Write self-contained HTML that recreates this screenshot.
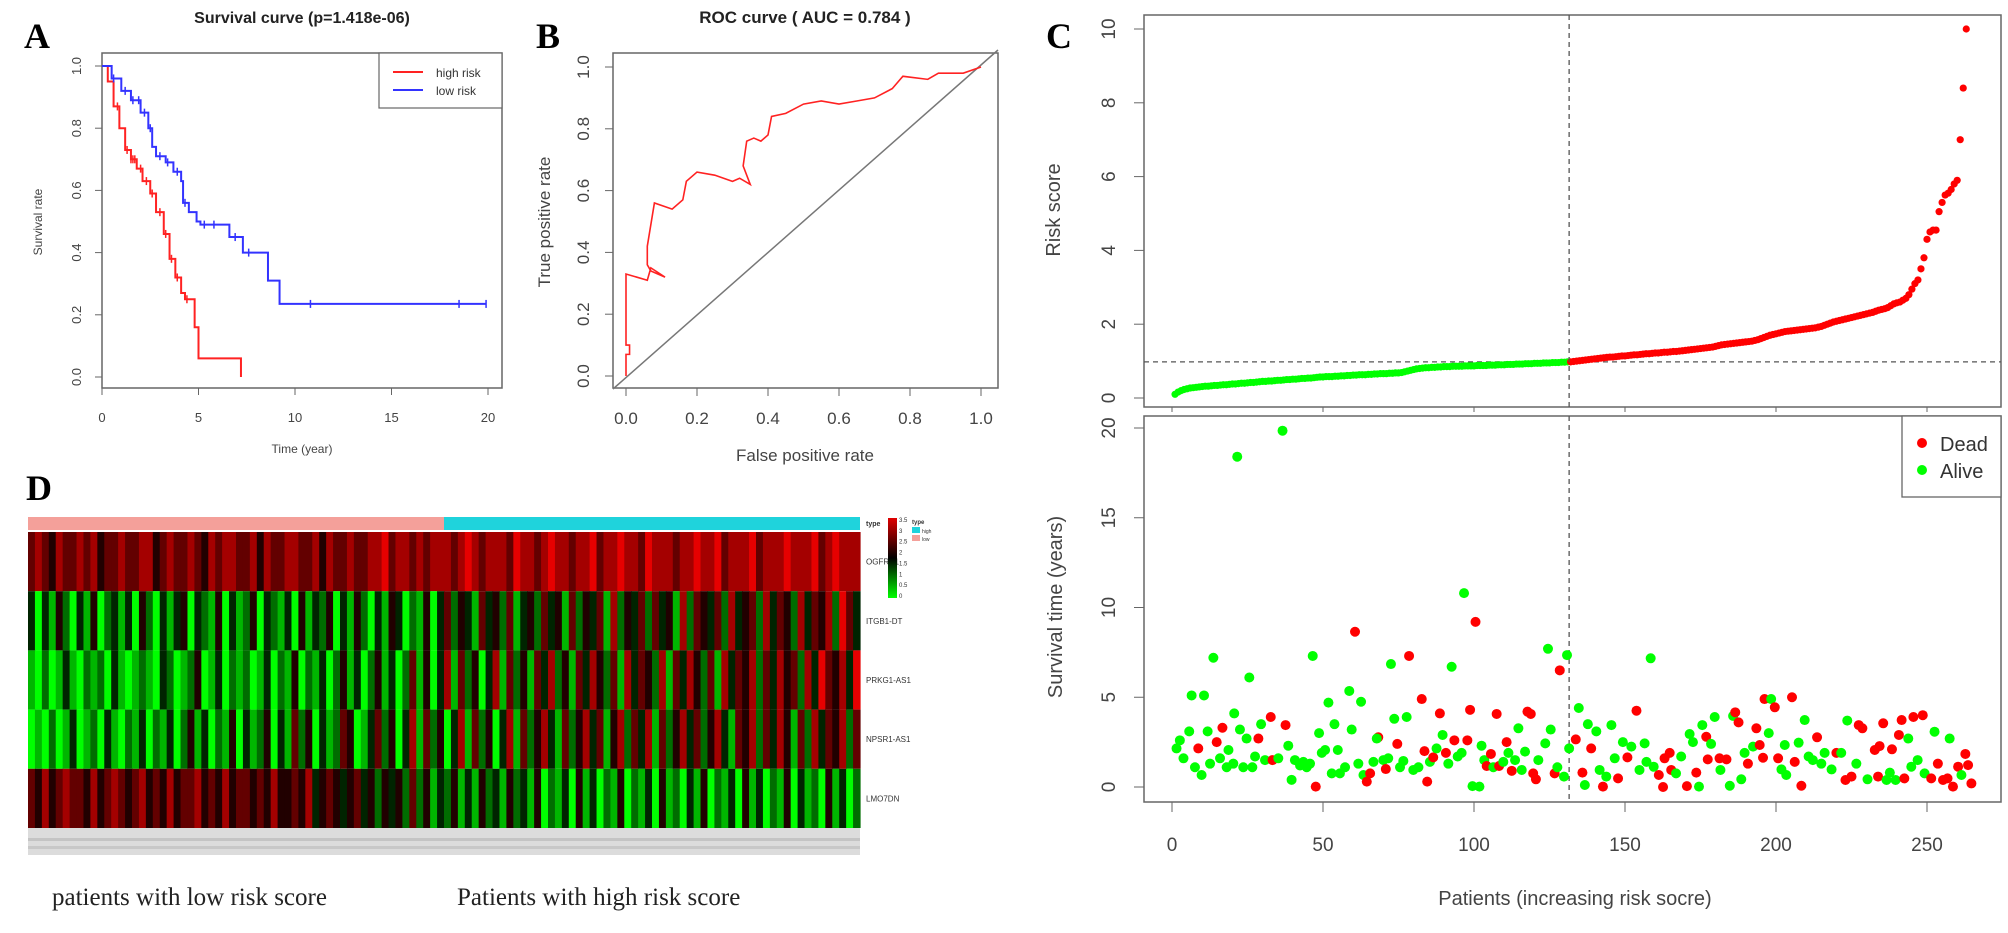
<!DOCTYPE html>
<html><head><meta charset="utf-8"><style>
html,body{margin:0;padding:0;background:#fff;width:2008px;height:933px;overflow:hidden}
svg{display:block;font-family:"Liberation Sans",sans-serif}
.ser{font-family:"Liberation Serif",serif}
</style></head><body>
<svg id="fig" width="2008" height="933" viewBox="0 0 2008 933" xmlns="http://www.w3.org/2000/svg">
<text class="ser" x="24" y="48" font-size="36" font-weight="bold">A</text>
<text class="ser" x="536" y="48" font-size="36" font-weight="bold">B</text>
<text class="ser" x="1046" y="48" font-size="36" font-weight="bold">C</text>
<text class="ser" x="26" y="500" font-size="36" font-weight="bold">D</text>

<g id="pa">
<text x="302" y="23" font-size="16" font-weight="bold" text-anchor="middle" fill="#222">Survival curve (p=1.418e-06)</text>
<rect x="102" y="53" width="400" height="335" fill="none" stroke="#666" stroke-width="1.5"/>
<text transform="translate(42,222) rotate(-90)" font-size="12" text-anchor="middle" fill="#444">Survival rate</text>
<text x="302" y="453" font-size="12" text-anchor="middle" fill="#444">Time (year)</text>
<g>
<rect x="379" y="53" width="123" height="55" fill="#fff" stroke="#666" stroke-width="1.2"/>
<line x1="393" y1="72" x2="423" y2="72" stroke="#f22" stroke-width="2"/>
<line x1="393" y1="90" x2="423" y2="90" stroke="#33f" stroke-width="2"/>
<text x="436" y="77" font-size="12" fill="#333">high risk</text>
<text x="436" y="95" font-size="12" fill="#333">low risk</text>
</g>
</g>

<g id="pb">
<text x="805" y="23" font-size="17" font-weight="bold" text-anchor="middle" fill="#222">ROC curve ( AUC =  0.784 )</text>
<rect x="613" y="53" width="385" height="335" fill="none" stroke="#666" stroke-width="1.5"/>
<text transform="translate(550,222) rotate(-90)" font-size="17" text-anchor="middle" fill="#444">True positive rate</text>
<text x="805" y="461" font-size="17" text-anchor="middle" fill="#444">False positive rate</text>
</g>

<g id="pc">
<rect x="1144" y="15" width="857" height="392" fill="none" stroke="#666" stroke-width="1.5"/>
<rect x="1144" y="416" width="857" height="386" fill="none" stroke="#666" stroke-width="1.5"/>
<text transform="translate(1060,210) rotate(-90)" font-size="20" text-anchor="middle" fill="#444">Risk score</text>
<text transform="translate(1062,607) rotate(-90)" font-size="20" text-anchor="middle" fill="#444">Survival time (years)</text>
<text x="1575" y="905" font-size="20" text-anchor="middle" fill="#444">Patients (increasing risk socre)</text>
</g>

<g id="pd"></g>
<text class="ser" x="52" y="905" font-size="25" fill="#222">patients with low risk score</text>
<text class="ser" x="457" y="905" font-size="25" fill="#222">Patients with high risk score</text>
</svg>
<script>
// ---- Panel A data ----
const kmHighT=[0,0.3,0.6,0.9,1.2,1.5,1.8,2.1,2.5,2.8,3.2,3.5,3.8,4.1,4.3,4.8,4.8,5.0,5.0,7.2,7.2];
const kmHighS=[1,0.95,0.87,0.8,0.73,0.7,0.67,0.63,0.59,0.53,0.46,0.38,0.32,0.27,0.25,0.25,0.16,0.12,0.06,0.06,0.0];
const kmLowT=[0,0.5,1,1.5,2,2.4,2.6,2.8,3.3,3.7,4.1,4.2,4.5,4.9,5.1,6.6,6.6,7.3,7.3,8.6,8.6,9.2,9.2,19.9];
const kmLowS=[1,0.96,0.92,0.89,0.85,0.8,0.74,0.71,0.69,0.66,0.63,0.56,0.53,0.5,0.49,0.49,0.45,0.45,0.4,0.4,0.31,0.31,0.235,0.235];
const kmLowCensor=[0.6,1.2,1.6,1.9,2.2,2.5,3.0,3.4,3.9,4.3,5.3,5.8,6.9,7.6,10.8,18.5,19.9];
const kmHighCensor=[0.8,1.3,1.5,1.6,1.7,2.0,2.3,2.6,3.0,3.3,3.6,3.9,4.4];
const survXTicks=[0,5,10,15,20];
const survYTicks=[0,0.2,0.4,0.6,0.8,1.0];
// ---- Panel B data ----
const rocFpr=[0,0,0.01,0.01,0,0,0.06,0.07,0.11,0.07,0.06,0.06,0.08,0.13,0.16,0.17,0.2,0.25,0.3,0.32,0.35,0.33,0.34,0.36,0.38,0.4,0.41,0.45,0.5,0.55,0.6,0.65,0.7,0.75,0.78,0.85,0.88,0.95,1.0];
const rocTpr=[0,0.07,0.07,0.1,0.1,0.33,0.31,0.35,0.32,0.34,0.36,0.42,0.56,0.54,0.57,0.63,0.66,0.65,0.63,0.64,0.62,0.68,0.76,0.77,0.76,0.78,0.84,0.85,0.88,0.89,0.88,0.89,0.9,0.93,0.97,0.96,0.98,0.98,1.0];
const rocTicks=[0,0.2,0.4,0.6,0.8,1.0];
// ---- Panel C data ----
const riskScores=[.10,.16,.20,.23,.25,.27,.28,.29,.30,.31,.32,.32,.33,.34,.34,.35,.36,.36,.37,.38,.38,.39,.40,.40,.41,.42,.42,.43,.44,.45,.45,.46,.46,.47,.48,.48,.49,.50,.50,.51,.51,.52,.53,.53,.54,.54,.55,.56,.57,.57,.58,.58,.58,.59,.59,.60,.60,.61,.61,.62,.62,.63,.63,.63,.64,.64,.65,.65,.66,.66,.66,.67,.67,.68,.68,.69,.71,.73,.75,.77,.79,.80,.81,.82,.82,.83,.83,.84,.84,.85,.85,.85,.86,.86,.86,.86,.87,.87,.87,.87,.88,.88,.88,.88,.89,.89,.89,.90,.90,.90,.91,.91,.91,.92,.92,.92,.93,.93,.93,.94,.94,.94,.95,.95,.95,.96,.96,.96,.97,.97,.98,.98,
0.99,1.00,1.01,1.02,1.03,1.04,1.05,1.06,1.07,1.08,1.09,1.10,1.11,1.11,1.12,1.13,1.14,1.14,1.15,1.16,1.17,1.17,1.18,1.19,1.20,1.20,1.21,1.22,1.22,1.23,1.24,1.24,1.25,1.26,1.26,1.27,1.28,1.29,1.30,1.31,1.32,1.33,1.34,1.35,1.36,1.37,1.38,1.40,1.42,1.44,1.45,1.46,1.47,1.48,1.49,1.50,1.51,1.52,1.53,1.54,1.56,1.58,1.61,1.64,1.67,1.70,1.72,1.74,1.76,1.78,1.80,1.81,1.82,1.83,1.84,1.85,1.86,1.87,1.88,1.89,1.90,1.92,1.94,1.97,2.00,2.03,2.06,2.08,2.10,2.12,2.14,2.16,2.18,2.20,2.22,2.24,2.26,2.28,2.30,2.32,2.35,2.38,2.40,2.42,2.45,2.50,2.55,2.58,2.60,2.65,2.70,2.80,2.95,3.10,3.20,3.50,3.80,4.30,4.50,4.55,4.55,5.05,5.30,5.50,5.55,5.65,5.80,5.90,7.00,8.40,10.00];
const riskCutoff=131.5;
const riskThreshold=0.98;
const survPatient=[1.5,2.6,3.8,5.7,6.5,8.7,7.6,9.8,10.6,11.8,12.6,13.7,14.8,16.7,15.9,18.7,18.1,20.3,20.6,21.6,22.5,23.6,24.7,25.6,26.6,27.5,28.6,29.5,30.8,32.7,33.3,35.2,37.6,36.6,38.5,39.6,40.7,42.4,43.5,44.6,45.7,46.6,47.6,48.7,49.6,50.7,51.8,52.9,53.8,54.9,55.6,57.3,58.7,59.5,60.6,61.7,62.6,63.4,64.5,65.6,66.7,68.3,67.8,70,70.8,71.6,72.5,73.6,74.6,75.5,76.6,77.7,78.5,79.9,81.6,82.7,83.6,84.5,85.4,86.5,87.6,88.7,89.6,90.7,91.5,92.6,93.5,94.6,95.9,96.7,97.8,98.7,100.5,99.5,101.8,102.5,103.4,104.2,105.6,107.5,106.4,108.3,109.7,110.8,111.4,112.5,113.6,114.7,115.8,116.9,117.7,118.8,119.6,120.5,121.3,123.6,124.5,125.4,126.7,127.6,128.4,129.8,130.8,131.5,133.7,134.7,135.9,136.7,137.7,138.8,140.5,141.6,142.7,143.8,145.5,146.6,147.7,149.3,150.8,152.1,153.8,154.8,156.5,157.1,158.5,159.5,161.2,162.6,163.1,164.8,165.3,166.9,168.6,170.5,171.4,172.5,173.6,174.5,175.6,176.9,178.5,177.4,179.7,181.3,181.6,183.6,184.7,185.8,186.5,187.6,188.5,189.6,190.7,192.4,193.5,194.6,195.7,196.2,198.4,197.6,199.6,200.7,201.8,203.4,202.9,205.3,206.2,207.5,208.4,209.5,210.8,212.2,213.6,215,216.1,218.4,220,221.6,223,223.6,225,226.6,227.4,228.6,230.3,232.7,234.3,233.8,235.5,236.6,237.7,238.4,239.6,240.7,241.6,243.8,242.5,244.8,245.5,246.9,248.6,249.2,251.4,252.5,253.6,255.3,256.8,257.5,258.6,260.3,261.4,262.7,263.6,264.7];
const survTime=[2.15,2.6,1.6,3.1,5.1,2.15,1.1,0.67,5.1,3.1,1.3,7.2,2.5,3.3,1.6,2.06,1.1,1.3,4.1,18.4,3.2,1.1,2.7,6.1,1.1,1.7,2.7,3.5,1.5,3.9,1.5,1.6,3.45,19.85,2.3,0.4,1.5,1.2,1.4,1.1,1.3,7.3,0.02,3.0,1.9,2.06,4.7,0.76,3.5,2.06,0.76,1.1,5.35,3.2,8.65,1.3,4.75,0.67,0.3,0.76,1.4,2.77,2.7,1.5,1.0,1.6,6.85,3.8,2.4,1.1,1.45,3.9,7.3,0.95,1.1,4.9,2.0,0.3,1.4,1.65,2.15,4.1,2.9,1.9,1.3,6.7,2.6,1.7,1.9,10.8,2.6,4.3,9.2,0.05,0.02,2.3,1.5,1.17,1.84,4.07,1.1,1.17,1.4,2.5,1.9,0.9,1.5,3.27,0.95,1.97,4.2,4.07,0.76,0.43,1.5,2.43,7.7,3.2,0.76,1.1,6.5,0.58,7.35,2.15,2.65,4.4,0.8,0.11,3.5,2.15,3.1,0.95,0.02,0.58,3.45,1.6,0.48,2.5,1.65,2.25,4.25,0.95,2.43,1.4,7.17,1.13,0.67,0,1.6,1.9,0.95,0.76,1.7,0.05,2.95,2.5,0.8,0.02,3.45,2.8,2.4,1.54,3.9,1.6,0.95,1.54,0.07,3.96,4.16,3.6,0.43,1.9,1.3,2.25,3.27,2.34,1.63,4.9,4.9,3.0,4.44,1.6,0.98,0.67,2.34,5.0,1.4,2.47,0.07,3.73,1.7,1.5,2.77,1.3,1.9,0.98,1.9,1.9,0.39,3.7,0.58,1.3,3.45,3.27,0.43,2.06,2.28,0.58,3.55,0.39,0.8,2.1,0.39,2.9,3.73,2.7,0.48,1.13,3.9,1.5,4.0,0.76,0.48,3.08,1.3,0.39,0.48,2.7,0.02,1.13,0.67,1.84,1.22,0.2];
const survDead=[0,0,0,0,0,1,0,0,0,0,0,0,1,1,0,0,0,0,0,0,0,0,0,0,0,0,1,0,0,1,1,0,1,0,0,0,0,0,0,0,0,0,1,0,0,0,0,0,0,0,0,0,0,0,1,0,0,0,1,1,0,1,0,0,1,0,0,0,1,0,0,0,1,0,0,1,1,1,0,1,0,1,0,1,0,0,1,0,0,0,1,1,1,0,0,0,0,1,1,1,0,1,0,1,0,1,0,0,0,0,1,1,1,1,0,0,0,0,1,0,1,0,0,0,1,0,1,0,0,1,0,0,1,0,0,0,1,0,1,0,1,0,0,0,0,0,1,1,1,1,1,0,0,1,0,0,1,0,0,1,0,1,0,1,0,1,0,0,1,1,0,0,1,0,1,1,1,1,0,0,1,1,0,0,0,1,1,0,1,0,0,0,1,0,0,0,1,0,1,0,1,0,1,1,0,1,1,1,1,0,0,1,0,1,1,0,1,0,1,0,1,0,1,0,1,1,1,0,1,1,0,1,1,1,1,1,1];
const riskYTicks=[0,2,4,6,8,10];
const survTimeTicks=[0,5,10,15,20];
const patientTicks=[0,50,100,150,200,250];
// ---- Panel D data ----
const geneNames=["OGFRP1","ITGB1-DT","PRKG1-AS1","NPSR1-AS1","LMO7DN"];
const heatRows=[
"565465565645565566456556546566556465566556465565566756656566656765666576656766566756676657666566766756667566676667567666",
"303142031402313042031340321403124032130413240314203143021403524315342513425341524351624352534162543526345263542635462753",
"102013102120310121032012401302120130214021302413024130251403615240361524153624153642516354261536425163546253645263754637",
"010201301203102130213024130214031240315240312540135240361524036152403615246315246351462536152463524631546253641526354625",
"546456554645654564546455645464554546445463454345342434252413241314231423140213041302140213041203140213041302140312041302"];
const heatLowCount=0.5; // fraction of columns labelled low risk
const keyLabels=["3.5","3","2.5","2","1.5","1","0.5","0"];

const NS="http://www.w3.org/2000/svg";
const fig=document.getElementById('fig');
function mk(tag,attrs,parent){const e=document.createElementNS(NS,tag);for(const k in attrs)e.setAttribute(k,attrs[k]);(parent||fig).appendChild(e);return e;}
function txt(s,attrs,parent){const e=mk('text',attrs,parent);e.textContent=s;return e;}

// ===== Panel A =====
const pa=document.getElementById('pa');
const ax=t=>102+t*19.3, ay=s=>377-s*311;
survXTicks.forEach(v=>{
  const l=mk('line',{x1:ax(v),y1:388,x2:ax(v),y2:395,stroke:'#666'},pa);
  
  
  const t=txt(String(v),{x:ax(v),y:422,'font-size':13,'text-anchor':'middle',fill:'#444'},pa);
  
  
});
survYTicks.forEach(v=>{
  const l=mk('line',{x1:95,y1:ay(v),x2:102,y2:ay(v),stroke:'#666'},pa);
  
  
  const t=txt(v.toFixed(1),{transform:`translate(81,${ay(v)}) rotate(-90)`,'font-size':13,'text-anchor':'middle',fill:'#444'},pa);
  
  
});
function stepPath(T,S){let d=`M${ax(T[0])},${ay(S[0])}`;for(let i=1;i<T.length;i++){d+=`L${ax(T[i])},${ay(S[i-1])}L${ax(T[i])},${ay(S[i])}`;}return d;}
function stepAt(T,S,t){let s=S[0];for(let i=0;i<T.length;i++){if(T[i]<=t)s=S[i];}return s;}
const hp=mk('path',{d:stepPath(kmHighT,kmHighS),fill:'none',stroke:'#f22','stroke-width':2},pa);


const lp=mk('path',{d:stepPath(kmLowT,kmLowS),fill:'none',stroke:'#33f','stroke-width':2},pa);


kmHighCensor.forEach(t=>{const y=ay(stepAt(kmHighT,kmHighS,t));const c=mk('line',{x1:ax(t),y1:y-4,x2:ax(t),y2:y+4,stroke:'#f22','stroke-width':1.5},pa);
  
  });
kmLowCensor.forEach(t=>{const y=ay(stepAt(kmLowT,kmLowS,t));const c=mk('line',{x1:ax(t),y1:y-4,x2:ax(t),y2:y+4,stroke:'#33f','stroke-width':1.5},pa);
  
  });

// ===== Panel B =====
const pb=document.getElementById('pb');
const bx=f=>626+f*355, by=t=>376-t*309;
rocTicks.forEach(v=>{
  const l=mk('line',{x1:bx(v),y1:388,x2:bx(v),y2:396,stroke:'#666'},pb);
  
  
  const t=txt(v.toFixed(1),{x:bx(v),y:424,'font-size':17,'text-anchor':'middle',fill:'#444'},pb);
  
  
  const l2=mk('line',{x1:605,y1:by(v),x2:613,y2:by(v),stroke:'#666'},pb);
  
  
  const t2=txt(v.toFixed(1),{transform:`translate(589,${by(v)}) rotate(-90)`,'font-size':17,'text-anchor':'middle',fill:'#444'},pb);
  
  
});
const dg=mk('line',{x1:613,y1:by(0)+(bx(0)-613),x2:998,y2:by(1)-(998-bx(1)),stroke:'#777','stroke-width':1.5},pb);


const rp=mk('polyline',{points:rocFpr.map((f,i)=>bx(f)+','+by(rocTpr[i])).join(' '),fill:'none',stroke:'#f22','stroke-width':1.6},pb);



// ===== Panel C =====
const pc=document.getElementById('pc');
const cx=p=>1172+p*3.02, cy=v=>398-v*36.9, cyb=t=>787-t*17.95;
riskYTicks.forEach(v=>{
  const l=mk('line',{x1:1134,y1:cy(v),x2:1144,y2:cy(v),stroke:'#666'},pc);
  
  
  const t=txt(String(v),{transform:`translate(1115,${cy(v)}) rotate(-90)`,'font-size':19,'text-anchor':'middle',fill:'#444'},pc);
  
  
});
survTimeTicks.forEach(v=>{
  const l=mk('line',{x1:1134,y1:cyb(v),x2:1144,y2:cyb(v),stroke:'#666'},pc);
  
  
  const t=txt(String(v),{transform:`translate(1115,${cyb(v)}) rotate(-90)`,'font-size':19,'text-anchor':'middle',fill:'#444'},pc);
  
  
});
patientTicks.forEach(v=>{
  const l=mk('line',{x1:cx(v),y1:407,x2:cx(v),y2:412,stroke:'#666'},pc);
  
  
  const l2=mk('line',{x1:cx(v),y1:802,x2:cx(v),y2:812,stroke:'#666'},pc);
  
  
  const t=txt(String(v),{x:cx(v),y:851,'font-size':19,'text-anchor':'middle',fill:'#444'},pc);
  
  
});
const hd=mk('line',{x1:1144,y1:cy(riskThreshold),x2:2001,y2:cy(riskThreshold),stroke:'#555','stroke-dasharray':'5,4','stroke-width':1.3},pc);


riskScores.forEach((v,i)=>{
  const c=mk('circle',{cx:cx(i+1),cy:cy(v),r:3.6,fill:(i+1)<=riskCutoff?'#0f0':'#f00'},pc);
  
  
});
[[15,407],[416,802]].forEach(r=>{
  const vd=mk('line',{x1:cx(riskCutoff),y1:r[0],x2:cx(riskCutoff),y2:r[1],stroke:'#555','stroke-dasharray':'5,4','stroke-width':1.3},pc);
  
  
});
survPatient.forEach((p,i)=>{
  const c=mk('circle',{cx:cx(p),cy:cyb(survTime[i]),r:5,fill:survDead[i]?'#f00':'#0f0'},pc);
  
  
});
const lg=mk('g',{},pc);


mk('rect',{x:1902,y:416,width:99,height:81,fill:'#fff',stroke:'#666','stroke-width':1.3},lg);
mk('circle',{cx:1922,cy:443,r:5,fill:'#f00'},lg);
mk('circle',{cx:1922,cy:470,r:5,fill:'#0f0'},lg);
txt('Dead',{x:1940,y:451,'font-size':20,fill:'#333'},lg);
txt('Alive',{x:1940,y:478,'font-size':20,fill:'#333'},lg);

// ===== Panel D =====
const pd=document.getElementById('pd');
const hx0=28,hx1=860,hy0=532,rowH=59.2;
const ab1=mk('rect',{x:hx0,y:517,width:(hx1-hx0)*heatLowCount,height:13,fill:'#f4a09a'},pd);


const ab2=mk('rect',{x:hx0+(hx1-hx0)*heatLowCount,y:517,width:(hx1-hx0)*(1-heatLowCount),height:13,fill:'#1fd3dc'},pd);


function hcol(d){const t=d/7;if(t<0.5){return `rgb(0,${Math.round(255*(1-2*t))},0)`;}return `rgb(${Math.round(230*(2*t-1))},0,0)`;}
heatRows.forEach((row,r)=>{
  const n=row.length,w=(hx1-hx0)/n;
  for(let i=0;i<n;i++){
    const c=mk('rect',{x:hx0+i*w,y:hy0+r*rowH,width:w+0.6,height:rowH,fill:hcol(+row[i])},pd);
    
    
  }
  const t=txt(geneNames[r],{x:866,y:hy0+r*rowH+rowH/2+3,'font-size':8,fill:'#333'},pd);
  
  
});
const gl=mk('rect',{x:hx0,y:828,width:hx1-hx0,height:27,fill:'#dcdcdc'},pd);


mk('rect',{x:hx0,y:838,width:hx1-hx0,height:3,fill:'#c4c4c4'},pd);
mk('rect',{x:hx0,y:846,width:hx1-hx0,height:3,fill:'#c8c8c8'},pd);
const tl=txt('type',{x:866,y:526,'font-size':7,'font-weight':'bold',fill:'#333'},pd);


const grad=mk('linearGradient',{id:'kg',x1:0,y1:0,x2:0,y2:1},mk('defs',{},pd));
mk('stop',{offset:'0','stop-color':'#e00000'},grad);mk('stop',{offset:'0.5','stop-color':'#000'},grad);mk('stop',{offset:'1','stop-color':'#00ff00'},grad);
const ck=mk('rect',{x:888,y:518,width:9,height:80,fill:'url(#kg)'},pd);


keyLabels.forEach((s,i)=>{const t=txt(s,{x:899,y:522+i*(76/7),'font-size':6,fill:'#333'},pd);
  
  });
const tg=mk('g',{},pd);


txt('type',{x:912,y:524,'font-size':6,'font-weight':'bold',fill:'#333'},tg);
mk('rect',{x:912,y:527,width:8,height:6,fill:'#1fd3dc'},tg);
mk('rect',{x:912,y:535,width:8,height:6,fill:'#f4a09a'},tg);
txt('high',{x:922,y:533,'font-size':5,fill:'#333'},tg);
txt('low',{x:922,y:541,'font-size':5,fill:'#333'},tg);
</script>
</body></html>
